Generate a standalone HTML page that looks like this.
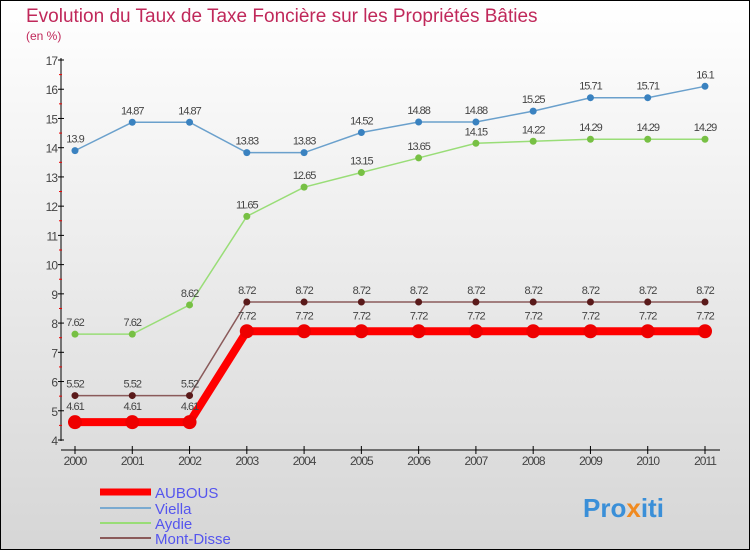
<!DOCTYPE html>
<html><head><meta charset="utf-8"><style>
html,body{margin:0;padding:0}
body{width:750px;height:550px;overflow:hidden;font-family:"Liberation Sans",sans-serif}
</style></head><body>
<svg width="750" height="550" xmlns="http://www.w3.org/2000/svg">
<defs><linearGradient id="bg" x1="0" y1="0" x2="0" y2="1"><stop offset="0" stop-color="#ffffff"/><stop offset="1" stop-color="#d6d6d6"/></linearGradient></defs>
<rect x="0.5" y="0.5" width="749" height="549" fill="url(#bg)" stroke="#000"/>
<text x="26" y="22" font-size="19" fill="#c0285a">Evolution du Taux de Taxe Foncière sur les Propriétés Bâties</text>
<text x="26" y="40" font-size="12" fill="#c0285a">(en %)</text>
<g id="axes"></g>
<g id="series"></g>
<g id="legend"></g>
<text x="583" y="517" font-size="26" font-weight="bold" fill="#3a8fd8">Pro<tspan fill="#f08a20">x</tspan>iti</text>
</svg>
<script>
const years=["2000","2001","2002","2003","2004","2005","2006","2007","2008","2009","2010","2011"];
const yTicks=[4,5,6,7,8,9,10,11,12,13,14,15,16,17];
const aubous=[4.61,4.61,4.61,7.72,7.72,7.72,7.72,7.72,7.72,7.72,7.72,7.72];
const viella=[13.9,14.87,14.87,13.83,13.83,14.52,14.88,14.88,15.25,15.71,15.71,16.1];
const aydie=[7.62,7.62,8.62,11.65,12.65,13.15,13.65,14.15,14.22,14.29,14.29,14.29];
const montDisse=[5.52,5.52,5.52,8.72,8.72,8.72,8.72,8.72,8.72,8.72,8.72,8.72];
const NS="http://www.w3.org/2000/svg";
const X=i=>75+i*(630/11);
const Y=v=>440-(v-4)*(380/13);
function mk(tag,attrs,parent,txt){const e=document.createElementNS(NS,tag);for(const k in attrs)e.setAttribute(k,attrs[k]);if(txt!==undefined)e.textContent=txt;parent.appendChild(e);return e;}
const ax=document.getElementById('axes');
let e=mk('line',{x1:61,y1:58,x2:61,y2:441,stroke:'#000','stroke-width':1},ax);

e=mk('line',{x1:61,y1:450,x2:720,y2:450,stroke:'#000','stroke-width':1},ax);

yTicks.forEach((t,i)=>{
  const y=Y(t);
  e=mk('line',{x1:58,y1:y,x2:64,y2:y,stroke:'#000'},ax);
  
  e=mk('text',{x:57,y:y+5,'font-size':12,fill:'#444','text-anchor':'end','letter-spacing':'-1'},ax,String(t));
  
  if(i<yTicks.length-1){const ym=Y(t+0.5);
    e=mk('line',{x1:59,y1:ym,x2:62,y2:ym,stroke:'#e00'},ax);
    }
});
years.forEach((yr,i)=>{
  e=mk('line',{x1:X(i),y1:446,x2:X(i),y2:454,stroke:'#000'},ax);
  
  e=mk('text',{x:X(i),y:465,'font-size':12,fill:'#444','text-anchor':'middle','letter-spacing':'-1'},ax,yr);
  
});
const sg=document.getElementById('series');
function series(name,vals,color,w,r,dot,labelDy){
  const g=mk('g',{},sg);
  
  let l=mk('polyline',{points:vals.map((v,i)=>X(i)+','+Y(v)).join(' '),fill:'none',stroke:color,'stroke-width':w},g);
  
  vals.forEach((v,i)=>{
    let c=mk('circle',{cx:X(i),cy:Y(v),r:r,fill:dot},g);
    
    let t=mk('text',{x:X(i),y:Y(v)+labelDy,'font-size':11,fill:'#444','text-anchor':'middle','letter-spacing':'-1'},g,String(v));
    
  });
}
series('mont-disse',montDisse,'#8a5a5a',1.5,3.5,'#5a1a1a',-8);
series('aydie',aydie,'#99dd77',1.5,3.5,'#77c044',-8);
series('viella',viella,'#6aa0cc',1.5,3.5,'#3a82c0',-8);
series('aubous',aubous,'#ff0000',8,7,'#ee0000',-12);
const lg=document.getElementById('legend');
const leg=[['AUBOUS','#ff0000',7,492],['Viella','#7aaad0',2,508],['Aydie','#99dd77',2,523],['Mont-Disse','#8a5a5a',2,538]];
leg.forEach(d=>{
  const g=mk('g',{},lg);
  
  mk('line',{x1:100,y1:d[3],x2:151,y2:d[3],stroke:d[1],'stroke-width':d[2]},g);
  mk('text',{x:155,y:d[3]+6,'font-size':15,fill:'#5555ee'},g,d[0]);
});
</script>
</body></html>
